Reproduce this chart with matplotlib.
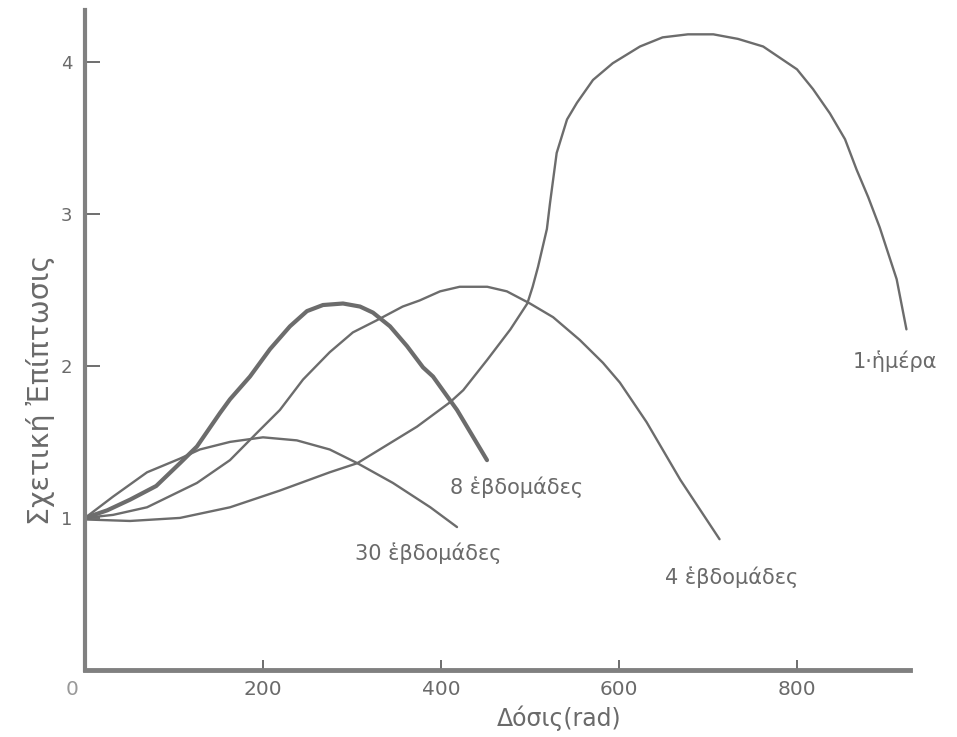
import matplotlib
matplotlib.use("Agg")
import matplotlib.pyplot as plt

# ---- data (dose in rad, relative incidence) ----
dose_30w = [0, 31.5, 69.7, 106.7, 129, 163, 200, 238, 275, 306, 346, 388, 418]
inc_30w = [1.00, 1.14, 1.30, 1.39, 1.45, 1.50, 1.53, 1.51, 1.45, 1.36, 1.23, 1.07, 0.94]

dose_8w = [0, 25, 50.6, 80, 106.7, 125.8, 151.7, 162.9, 185.4, 207.9, 230.3, 249.4, 267.4,
           289.9, 309, 323.6, 342.7, 361.8, 379.8, 391, 418, 451.7]
inc_8w = [1.00, 1.05, 1.12, 1.21, 1.36, 1.47, 1.69, 1.78, 1.93, 2.11, 2.26, 2.36, 2.40,
          2.41, 2.39, 2.35, 2.26, 2.13, 1.99, 1.93, 1.71, 1.38]

dose_4w = [0, 31.5, 69.7, 125.8, 162.9, 193.3, 219, 245, 275, 301, 328, 357, 376, 399, 421,
           452, 474, 500, 526, 556, 582, 601, 631, 669, 713]
inc_4w = [1.00, 1.02, 1.07, 1.23, 1.38, 1.56, 1.71, 1.91, 2.09, 2.22, 2.30, 2.39, 2.43, 2.49, 2.52,
          2.52, 2.49, 2.41, 2.32, 2.17, 2.02, 1.89, 1.63, 1.25, 0.86]

dose_1d = [0, 50.6, 106.7, 163, 219, 275, 306, 373, 410, 425, 452, 478, 497, 503, 509, 519,
           522.5, 530, 541.6, 552.8, 570.8, 593, 623.6, 649, 677.5, 706, 733.7, 762, 800, 818,
           837, 854, 867, 880, 893, 912, 923]
inc_1d = [0.99, 0.98, 1.00, 1.07, 1.18, 1.30, 1.36, 1.60, 1.76, 1.84, 2.04, 2.24, 2.41, 2.52, 2.65, 2.90,
          3.07, 3.40, 3.62, 3.73, 3.88, 3.99, 4.10, 4.16, 4.18, 4.18, 4.15, 4.10, 3.95, 3.82,
          3.66, 3.49, 3.29, 3.11, 2.91, 2.57, 2.24]

x_ticks = [200, 400, 600, 800]
x_tick_labels = ["200", "400", "600", "800"]
y_ticks = [1, 2, 3, 4]
y_tick_labels = ["1", "2", "3", "4"]

series_labels = ["30 ἑβδομάδες", "8 ἑβδομάδες", "4 ἑβδομάδες", "1·ἡμέρα"]
x_label = "Δόσις(rad)"
y_label = "Σχετική Ἐπίπτωσις"

# ---- figure ----
plt.rcParams['font.family'] = ['DejaVu Sans']
LINE = "#6c6c6c"
TXT = "#6a6a6a"
AX = "#808080"

fig = plt.figure(figsize=(9.57, 7.37), dpi=100)
ax = fig.add_axes([85 / 957, 67 / 737, 825 / 957, 660 / 737])
ax.set_xlim(0, 927)
ax.set_ylim(0, 4.34)

kw = dict(color=LINE, solid_capstyle='round', solid_joinstyle='round')
ax.plot(dose_30w, inc_30w, lw=1.7, **kw)
ax.plot(dose_8w, inc_8w, lw=3.0, **kw)
ax.plot(dose_4w, inc_4w, lw=1.7, **kw)
ax.plot(dose_1d, inc_1d, lw=1.7, **kw)

# curve labels
lab_fs = 15
ax.text(303, 0.77, series_labels[0], fontsize=lab_fs, color=TXT, va='center', ha='left')
ax.text(410, 1.20, series_labels[1], fontsize=lab_fs, color=TXT, va='center', ha='left')
ax.text(652, 0.61, series_labels[2], fontsize=lab_fs, color=TXT, va='center', ha='left')
ax.text(863, 2.03, series_labels[3], fontsize=lab_fs, color=TXT, va='center', ha='left',
        clip_on=False)

# spines
for s in ['top', 'right']:
    ax.spines[s].set_visible(False)
ax.spines['left'].set_linewidth(3)
ax.spines['bottom'].set_linewidth(3.5)
ax.spines['left'].set_color(AX)
ax.spines['bottom'].set_color(AX)

ax.set_xticks(x_ticks)
ax.set_xticklabels(x_tick_labels)
ax.set_yticks(y_ticks)
ax.set_yticklabels(y_tick_labels)
ax.tick_params(axis='x', direction='in', length=7, width=1.2, color="#555555",
               labelsize=14.5, labelcolor=TXT, pad=7)
ax.tick_params(axis='y', direction='in', length=11, width=1.2, color="#555555",
               labelsize=13, labelcolor=TXT, pad=9)

ax.text(-15, -0.13, "0", fontsize=14.5, color="#999999", ha='center', va='center', clip_on=False)

ax.text(533, -0.32, x_label, fontsize=17, color=TXT, ha='center', va='center', clip_on=False)
ax.text(-50, 1.84, y_label, fontsize=20.5, color=TXT, ha='center', va='center',
        rotation=90, clip_on=False)

fig.savefig("out.png", dpi=100, facecolor="white")
